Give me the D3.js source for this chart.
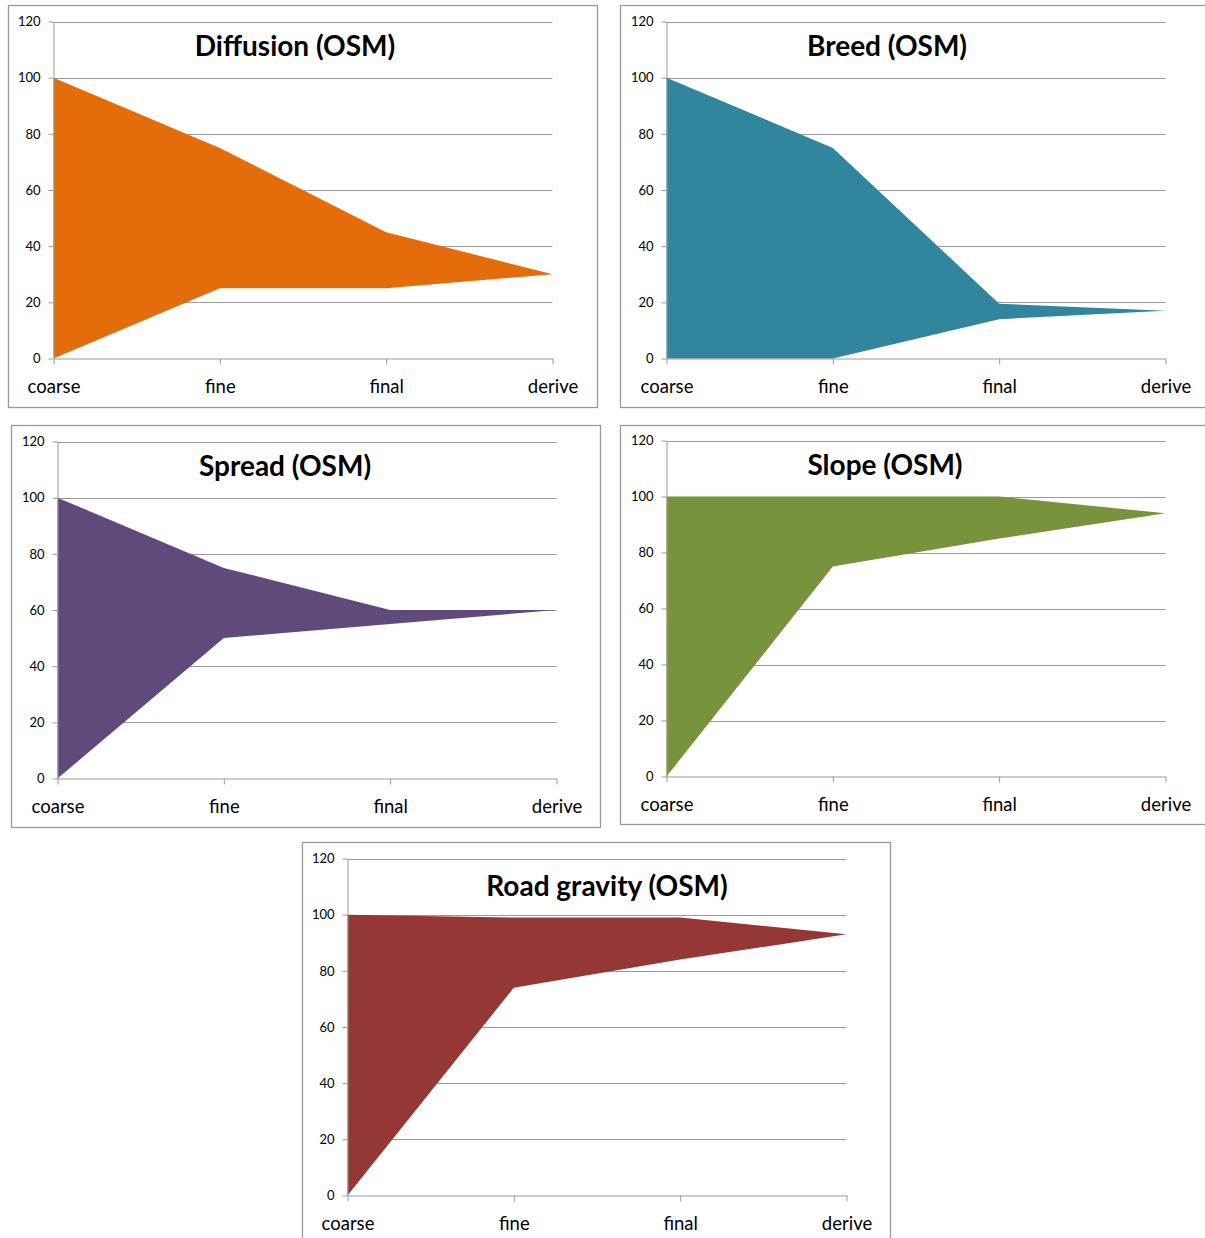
<!DOCTYPE html>
<html><head><meta charset="utf-8">
<script src="https://cdn.jsdelivr.net/npm/d3@7"></script>
<style>body{margin:0;background:#fff}svg{display:block}</style>
</head><body>
<svg id="c" width="1205" height="1238"></svg>
<script>
const categories = ["coarse", "fine", "final", "derive"];
const yTicks = [0, 20, 40, 60, 80, 100, 120];
const titles = ["Diffusion (OSM)", "Breed (OSM)", "Spread (OSM)", "Slope (OSM)", "Road gravity (OSM)"];
const diffusionHigh = [100, 75, 45, 30];
const diffusionLow  = [0, 25, 25, 30];
const breedHigh = [100, 75, 19.5, 17];
const breedLow  = [0, 0, 14, 17];
const spreadHigh = [100, 75, 60, 60];
const spreadLow  = [0, 50, 55, 60];
const slopeHigh = [100, 100, 100, 94];
const slopeLow  = [0, 75, 85, 94];
const roadHigh = [100, 99, 99, 93];
const roadLow  = [0, 74, 84, 93];
const colors = ["#E46C0A", "#31859C", "#604A7B", "#77933C", "#953735"];

const series = [
  {high: diffusionHigh, low: diffusionLow},
  {high: breedHigh, low: breedLow},
  {high: spreadHigh, low: spreadLow},
  {high: slopeHigh, low: slopeLow},
  {high: roadHigh, low: roadLow}
];
// layout: box, plot area, title centre
const layout = [
  {bx: 8.5, by: 5.5, bw: 589, bh: 402, left: 53.5, right: 552.5, top: 21.5, bottom: 358.5, tx: 295, ty: 56},
  {bx: 620.5, by: 5.5, bw: 600, bh: 402, left: 666.5, right: 1165.5, top: 21.5, bottom: 358.5, tx: 887, ty: 56},
  {bx: 11.5, by: 425.5, bw: 589, bh: 402, left: 57.5, right: 556.5, top: 441.5, bottom: 778.5, tx: 285, ty: 476},
  {bx: 620.5, by: 425.5, bw: 600, bh: 399, left: 666.5, right: 1165.5, top: 440.5, bottom: 776.5, tx: 885, ty: 475},
  {bx: 302.5, by: 842.5, bw: 588, bh: 420, left: 347.5, right: 846.5, top: 858.5, bottom: 1195.5, tx: 607, ty: 896}
];

const svg = d3.select("#c");
const font = "Lato, 'Open Sans', sans-serif";

series.forEach((s, i) => {
  const L = layout[i];
  const g = svg.append("g");
  g.append("rect").attr("x", L.bx).attr("y", L.by).attr("width", L.bw).attr("height", L.bh)
    .attr("fill", "#fff").attr("stroke", "#9a9a9a").attr("stroke-width", 1.3);

  const x = d3.scalePoint().domain(categories).range([L.left, L.right]);
  const y = d3.scaleLinear().domain([0, 120]).range([L.bottom, L.top]);

  g.selectAll("line.grid").data(yTicks.filter(t => t > 0)).join("line")
    .attr("x1", L.left).attr("x2", L.right)
    .attr("y1", d => Math.round(y(d)) + 0.5).attr("y2", d => Math.round(y(d)) + 0.5)
    .attr("stroke", "#9a9a9a").attr("stroke-width", 1);

  const data = categories.map((c, k) => ({c, hi: s.high[k], lo: s.low[k]}));
  const area = d3.area().x(d => x(d.c)).y0(d => y(d.lo)).y1(d => y(d.hi));
  g.append("path").datum(data).attr("d", area).attr("fill", colors[i]);

  const ya = d3.axisLeft(y).tickValues(yTicks).tickSize(5).tickSizeOuter(0).tickPadding(8);
  const yg = g.append("g").attr("transform", `translate(${L.left},0)`).call(ya);
  yg.select(".domain").attr("stroke", "#9a9a9a");
  yg.selectAll(".tick line").attr("stroke", "#9a9a9a");
  yg.selectAll("text").attr("font-family", font).attr("font-size", 13).attr("fill", "#000");

  const xa = d3.axisBottom(x).tickSize(6).tickSizeOuter(0).tickPadding(15);
  const xg = g.append("g").attr("transform", `translate(0,${L.bottom})`).call(xa);
  xg.select(".domain").attr("stroke", "#9a9a9a");
  xg.selectAll(".tick line").attr("stroke", "#9a9a9a");
  xg.selectAll("text").attr("font-family", font).attr("font-size", 18.5).attr("fill", "#000");

  g.append("text").attr("x", L.tx).attr("y", L.ty).attr("text-anchor", "middle")
    .attr("font-family", font).attr("font-weight", "bold").attr("font-size", 28)
    .attr("fill", "#000").text(titles[i]);
});
</script>
</body></html>
